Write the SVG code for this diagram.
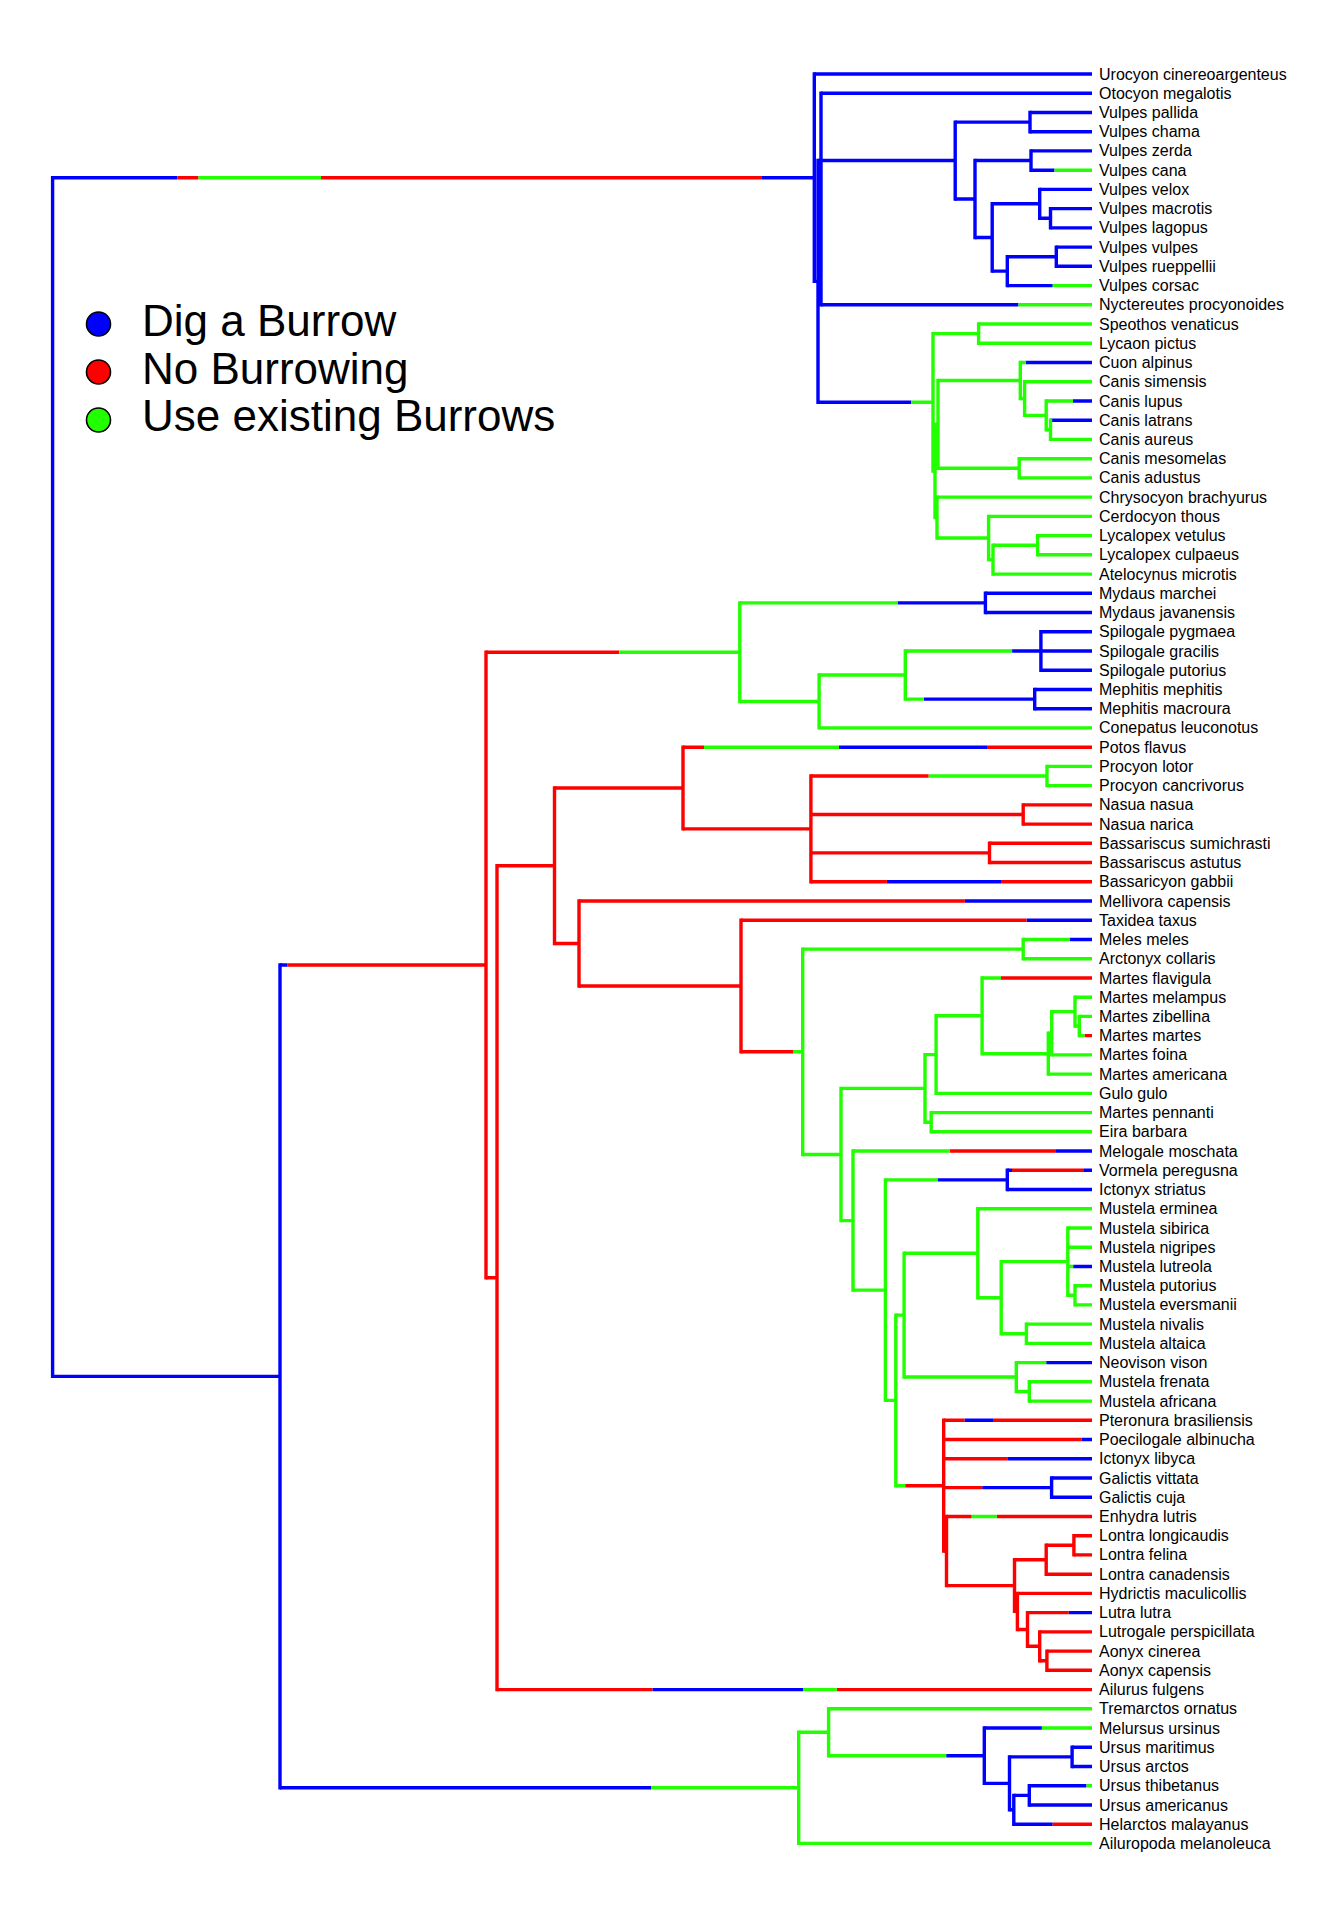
<svg xmlns="http://www.w3.org/2000/svg" width="1344" height="1920" viewBox="0 0 1344 1920">
<style>
.h{fill:none;stroke-width:3.4;stroke-linecap:butt}
.v{fill:none;stroke-width:3.4;stroke-linecap:square}
.b{stroke:#0000ff}.r{stroke:#ff0000}.g{stroke:#22ff00}
.tip{font-family:"Liberation Sans",Arial,sans-serif;font-size:16px;fill:#000}
.leg{font-family:"Liberation Sans",Arial,sans-serif;font-size:44px;fill:#000}
.dot{stroke:#000;stroke-width:1.6}
</style>
<rect width="1344" height="1920" fill="#fff"/>
<g id="connectors">
<path class="h b" d="M52.6 177.7H177.5M762 177.7H814.3M52.6 1376.4H280M814.3 74H1092M814.3 281.4H818M818 160.55H955.2M818 199H821M821 93.2H1092M821 304.8H1018.5M818 402.3H911.3M955.2 122.1H1030M1030 112.5H1092M1030 131.7H1092M955.2 199H975M975 160.55H1031M1031 150.9H1092M1031 170.2H1054.5M975 237.5H992.2M992.2 203.8H1039.7M1039.7 189.4H1092M1039.7 218.25H1050.5M1050.5 208.6H1092M1050.5 227.9H1092M992.2 271.15H1007.3M1007.3 256.7H1056.3M1056.3 247.1H1092M1056.3 266.3H1092M1007.3 285.6H1052.7M1025.7 362.5H1092M1073 401H1092M1050.5 420.2H1092M280 964.95H287.6M280 1787.8H651M652.4 1689.6H803.4M839 747.2H987M886.9 881.8H1001M964.9 901H1092M1026.5 920.25H1092M1069.6 939.5H1092M1055.2 1151.05H1092M937.6 1179.9H1007.3M1007.3 1170.3H1012M1083.2 1170.3H1092M1007.3 1189.5H1092M1073.2 1266.45H1092M1046.2 1362.6H1092M964.5 1420.3H993M1081.4 1439.5H1092M1007.3 1458.8H1092M982.2 1487.6H1051.6M1051.6 1478H1092M1051.6 1497.2H1092M1068.8 1612.6H1092M897.5 602.9H985.4M985.4 593.3H1092M985.4 612.5H1092M1012.1 651H1040.9M1040.9 631.8H1092M1040.9 651H1092M1040.9 670.2H1092M923.8 699.1H1034.7M1034.7 689.5H1092M1034.7 708.7H1092M946.2 1755.7H984.3M984.3 1728H1041.9M984.3 1783.35H1009.5M1009.5 1756.9H1072.1M1072.1 1747.3H1092M1072.1 1766.5H1092M1009.5 1809.8H1013.8M1013.8 1795.35H1029.3M1029.3 1785.7H1086.5M1029.3 1805H1092M1013.8 1824.2H1052.7"/>
<path class="h r" d="M177.5 177.7H198.5M321 177.7H762M287.6 964.95H486M486 652.2H619.3M486 1277.7H497M497 1689.6H652.4M836.8 1689.6H1092M497 865.8H554.5M554.5 788.05H683M683 747.2H704M987 747.2H1092M683 828.9H810.9M810.9 776H928.7M810.9 814.5H1023.2M1023.2 804.85H1092M1023.2 824.1H1092M810.9 852.9H989.5M989.5 843.3H1092M989.5 862.55H1092M810.9 881.8H886.9M1001 881.8H1092M554.5 943.5H579M579 901H964.9M579 986H741M741 920.25H1026.5M741 1051.8H793.6M1001 977.95H1092M1084.5 1035.65H1092M949.8 1151.05H1055.2M1012 1170.3H1083.2M905.2 1485.7H943.7M943.7 1420.3H964.5M993 1420.3H1092M943.7 1439.5H1081.4M943.7 1458.8H1007.3M943.7 1487.6H982.2M943.7 1551.05H946.5M946.5 1516.5H971.7M996.9 1516.5H1092M946.5 1585.6H1014.5M1014.5 1559.75H1046.2M1046.2 1545.3H1073.9M1073.9 1535.7H1092M1073.9 1554.9H1092M1046.2 1574.2H1092M1014.5 1611.4H1017.4M1017.4 1593.4H1092M1017.4 1629.45H1027.5M1027.5 1612.6H1068.8M1027.5 1646.3H1039.7M1039.7 1631.9H1092M1039.7 1660.7H1046.9M1046.9 1651.1H1092M1046.9 1670.3H1092M1052.7 1824.2H1092"/>
<path class="h g" d="M198.5 177.7H321M1018.5 304.8H1092M1054.5 170.2H1092M1052.7 285.6H1092M911.3 402.3H933M933 333.65H978.6M978.6 324H1092M978.6 343.3H1092M933 471H935M935 424.4H938M938 380.5H1020.3M1020.3 362.5H1025.7M1020.3 398.55H1024.6M1024.6 381.7H1092M1024.6 415.4H1046.2M1046.2 401H1073M1046.2 429.8H1050.5M1050.5 439.4H1092M938 468.3H1019.2M1019.2 458.7H1092M1019.2 477.9H1092M935 517.55H937M937 497.1H1092M937 538H988.6M988.6 516.4H1092M988.6 559.65H993M993 545.2H1037.6M1037.6 535.6H1092M1037.6 554.8H1092M993 574.1H1092M651 1787.8H798.7M619.3 652.2H739.8M803.4 1689.6H836.8M704 747.2H839M928.7 776H1047M1047 766.4H1092M1047 785.6H1092M793.6 1051.8H802.7M802.7 949.1H1023.2M1023.2 939.5H1069.6M1023.2 958.7H1092M802.7 1154.5H841M841 1088.4H925M925 1054.6H936.1M936.1 1015.8H982.1M982.1 977.95H1001M982.1 1053.7H1048.3M1048.3 1033.25H1051.7M1051.7 1011.6H1075M1075 997.2H1092M1075 1026H1079.3M1079.3 1016.4H1092M1079.3 1035.65H1084.5M1051.7 1054.9H1092M1048.3 1074.1H1092M936.1 1093.35H1092M925 1122.2H931.2M931.2 1112.6H1092M931.2 1131.8H1092M841 1220.6H853M853 1151.05H949.8M853 1290.15H885.4M885.4 1179.9H937.6M885.4 1400.4H895.8M895.8 1315.1H904.1M904.1 1253.2H977.8M977.8 1208.75H1092M977.8 1297.7H1001.2M1001.2 1261.65H1067.8M1067.8 1228H1092M1067.8 1247.2H1092M1067.8 1266.45H1073.2M1067.8 1295.3H1075M1075 1285.7H1092M1075 1304.9H1092M1001.2 1333.75H1026.4M1026.4 1324.1H1092M1026.4 1343.4H1092M904.1 1377H1016.3M1016.3 1362.6H1046.2M1016.3 1391.45H1029.3M1029.3 1381.8H1092M1029.3 1401.1H1092M895.8 1485.7H905.2M971.7 1516.5H996.9M739.8 602.9H897.5M739.8 701.5H819.1M819.1 675.05H905.3M905.3 651H1012.1M905.3 699.1H923.8M819.1 727.9H1092M798.7 1732.25H828.6M828.6 1708.8H1092M828.6 1755.7H946.2M1041.9 1728H1092M1086.5 1785.7H1092M798.7 1843.4H1092"/>
<path class="v b" d="M52.6 177.7V1376.4M814.3 74V281.4M818 160.55V402.3M821 93.2V304.8M955.2 122.1V199M1030 112.5V131.7M975 160.55V237.5M1031 150.9V170.2M992.2 203.8V271.15M1039.7 189.4V218.25M1050.5 208.6V227.9M1007.3 256.7V285.6M1056.3 247.1V266.3M280 964.95V1787.8M1007.3 1170.3V1189.5M1051.6 1478V1497.2M985.4 593.3V612.5M1040.9 631.8V670.2M1034.7 689.5V708.7M984.3 1728V1783.35M1009.5 1756.9V1809.8M1072.1 1747.3V1766.5M1013.8 1795.35V1824.2M1029.3 1785.7V1805"/>
<path class="v r" d="M486 652.2V1277.7M497 865.8V1689.6M554.5 788.05V943.5M683 747.2V828.9M810.9 776V881.8M1023.2 804.85V824.1M989.5 843.3V862.55M579 901V986M741 920.25V1051.8M943.7 1420.3V1551.05M946.5 1516.5V1585.6M1014.5 1559.75V1611.4M1046.2 1545.3V1574.2M1073.9 1535.7V1554.9M1017.4 1593.4V1629.45M1027.5 1612.6V1646.3M1039.7 1631.9V1660.7M1046.9 1651.1V1670.3"/>
<path class="v g" d="M933 333.65V471M978.6 324V343.3M935 424.4V517.55M938 380.5V468.3M1020.3 362.5V398.55M1024.6 381.7V415.4M1046.2 401V429.8M1050.5 420.2V439.4M1019.2 458.7V477.9M937 497.1V538M988.6 516.4V559.65M993 545.2V574.1M1037.6 535.6V554.8M739.8 602.9V701.5M819.1 675.05V727.9M905.3 651V699.1M1047 766.4V785.6M802.7 949.1V1154.5M1023.2 939.5V958.7M841 1088.4V1220.6M925 1054.6V1122.2M936.1 1015.8V1093.35M982.1 977.95V1053.7M1048.3 1033.25V1074.1M1051.7 1011.6V1054.9M1075 997.2V1026M1079.3 1016.4V1035.65M931.2 1112.6V1131.8M853 1151.05V1290.15M885.4 1179.9V1400.4M895.8 1315.1V1485.7M904.1 1253.2V1377M977.8 1208.75V1297.7M1001.2 1261.65V1333.75M1067.8 1228V1295.3M1075 1285.7V1304.9M1026.4 1324.1V1343.4M1016.3 1362.6V1391.45M1029.3 1381.8V1401.1M798.7 1732.25V1843.4M828.6 1708.8V1755.7"/>
</g>
<g id="legend">
<g id="legend-dig"><circle class="dot" cx="98.5" cy="324" r="12" fill="#0000ff"/><text class="leg" x="142" y="336">Dig a Burrow</text></g>
<g id="legend-no"><circle class="dot" cx="98.5" cy="372" r="12" fill="#ff0000"/><text class="leg" x="142" y="384">No Burrowing</text></g>
<g id="legend-use"><circle class="dot" cx="98.5" cy="420" r="12" fill="#22ff00"/><text class="leg" x="142" y="431">Use existing Burrows</text></g>
</g>
<g id="tips" class="tip">
<g id="t01"><text x="1099" y="79.5">Urocyon cinereoargenteus</text></g>
<g id="t02"><text x="1099" y="98.7">Otocyon megalotis</text></g>
<g id="t03"><text x="1099" y="118">Vulpes pallida</text></g>
<g id="t04"><text x="1099" y="137.2">Vulpes chama</text></g>
<g id="t05"><text x="1099" y="156.4">Vulpes zerda</text></g>
<g id="t06"><text x="1099" y="175.7">Vulpes cana</text></g>
<g id="t07"><text x="1099" y="194.9">Vulpes velox</text></g>
<g id="t08"><text x="1099" y="214.1">Vulpes macrotis</text></g>
<g id="t09"><text x="1099" y="233.4">Vulpes lagopus</text></g>
<g id="t10"><text x="1099" y="252.6">Vulpes vulpes</text></g>
<g id="t11"><text x="1099" y="271.8">Vulpes rueppellii</text></g>
<g id="t12"><text x="1099" y="291.1">Vulpes corsac</text></g>
<g id="t13"><text x="1099" y="310.3">Nyctereutes procyonoides</text></g>
<g id="t14"><text x="1099" y="329.5">Speothos venaticus</text></g>
<g id="t15"><text x="1099" y="348.8">Lycaon pictus</text></g>
<g id="t16"><text x="1099" y="368">Cuon alpinus</text></g>
<g id="t17"><text x="1099" y="387.2">Canis simensis</text></g>
<g id="t18"><text x="1099" y="406.5">Canis lupus</text></g>
<g id="t19"><text x="1099" y="425.7">Canis latrans</text></g>
<g id="t20"><text x="1099" y="444.9">Canis aureus</text></g>
<g id="t21"><text x="1099" y="464.2">Canis mesomelas</text></g>
<g id="t22"><text x="1099" y="483.4">Canis adustus</text></g>
<g id="t23"><text x="1099" y="502.6">Chrysocyon brachyurus</text></g>
<g id="t24"><text x="1099" y="521.9">Cerdocyon thous</text></g>
<g id="t25"><text x="1099" y="541.1">Lycalopex vetulus</text></g>
<g id="t26"><text x="1099" y="560.3">Lycalopex culpaeus</text></g>
<g id="t27"><text x="1099" y="579.6">Atelocynus microtis</text></g>
<g id="t28"><text x="1099" y="598.8">Mydaus marchei</text></g>
<g id="t29"><text x="1099" y="618">Mydaus javanensis</text></g>
<g id="t30"><text x="1099" y="637.3">Spilogale pygmaea</text></g>
<g id="t31"><text x="1099" y="656.5">Spilogale gracilis</text></g>
<g id="t32"><text x="1099" y="675.7">Spilogale putorius</text></g>
<g id="t33"><text x="1099" y="695">Mephitis mephitis</text></g>
<g id="t34"><text x="1099" y="714.2">Mephitis macroura</text></g>
<g id="t35"><text x="1099" y="733.4">Conepatus leuconotus</text></g>
<g id="t36"><text x="1099" y="752.7">Potos flavus</text></g>
<g id="t37"><text x="1099" y="771.9">Procyon lotor</text></g>
<g id="t38"><text x="1099" y="791.1">Procyon cancrivorus</text></g>
<g id="t39"><text x="1099" y="810.4">Nasua nasua</text></g>
<g id="t40"><text x="1099" y="829.6">Nasua narica</text></g>
<g id="t41"><text x="1099" y="848.8">Bassariscus sumichrasti</text></g>
<g id="t42"><text x="1099" y="868.1">Bassariscus astutus</text></g>
<g id="t43"><text x="1099" y="887.3">Bassaricyon gabbii</text></g>
<g id="t44"><text x="1099" y="906.5">Mellivora capensis</text></g>
<g id="t45"><text x="1099" y="925.8">Taxidea taxus</text></g>
<g id="t46"><text x="1099" y="945">Meles meles</text></g>
<g id="t47"><text x="1099" y="964.2">Arctonyx collaris</text></g>
<g id="t48"><text x="1099" y="983.5">Martes flavigula</text></g>
<g id="t49"><text x="1099" y="1002.7">Martes melampus</text></g>
<g id="t50"><text x="1099" y="1021.9">Martes zibellina</text></g>
<g id="t51"><text x="1099" y="1041.2">Martes martes</text></g>
<g id="t52"><text x="1099" y="1060.4">Martes foina</text></g>
<g id="t53"><text x="1099" y="1079.6">Martes americana</text></g>
<g id="t54"><text x="1099" y="1098.9">Gulo gulo</text></g>
<g id="t55"><text x="1099" y="1118.1">Martes pennanti</text></g>
<g id="t56"><text x="1099" y="1137.3">Eira barbara</text></g>
<g id="t57"><text x="1099" y="1156.6">Melogale moschata</text></g>
<g id="t58"><text x="1099" y="1175.8">Vormela peregusna</text></g>
<g id="t59"><text x="1099" y="1195">Ictonyx striatus</text></g>
<g id="t60"><text x="1099" y="1214.3">Mustela erminea</text></g>
<g id="t61"><text x="1099" y="1233.5">Mustela sibirica</text></g>
<g id="t62"><text x="1099" y="1252.7">Mustela nigripes</text></g>
<g id="t63"><text x="1099" y="1272">Mustela lutreola</text></g>
<g id="t64"><text x="1099" y="1291.2">Mustela putorius</text></g>
<g id="t65"><text x="1099" y="1310.4">Mustela eversmanii</text></g>
<g id="t66"><text x="1099" y="1329.6">Mustela nivalis</text></g>
<g id="t67"><text x="1099" y="1348.9">Mustela altaica</text></g>
<g id="t68"><text x="1099" y="1368.1">Neovison vison</text></g>
<g id="t69"><text x="1099" y="1387.3">Mustela frenata</text></g>
<g id="t70"><text x="1099" y="1406.6">Mustela africana</text></g>
<g id="t71"><text x="1099" y="1425.8">Pteronura brasiliensis</text></g>
<g id="t72"><text x="1099" y="1445">Poecilogale albinucha</text></g>
<g id="t73"><text x="1099" y="1464.3">Ictonyx libyca</text></g>
<g id="t74"><text x="1099" y="1483.5">Galictis vittata</text></g>
<g id="t75"><text x="1099" y="1502.7">Galictis cuja</text></g>
<g id="t76"><text x="1099" y="1522">Enhydra lutris</text></g>
<g id="t77"><text x="1099" y="1541.2">Lontra longicaudis</text></g>
<g id="t78"><text x="1099" y="1560.4">Lontra felina</text></g>
<g id="t79"><text x="1099" y="1579.7">Lontra canadensis</text></g>
<g id="t80"><text x="1099" y="1598.9">Hydrictis maculicollis</text></g>
<g id="t81"><text x="1099" y="1618.1">Lutra lutra</text></g>
<g id="t82"><text x="1099" y="1637.4">Lutrogale perspicillata</text></g>
<g id="t83"><text x="1099" y="1656.6">Aonyx cinerea</text></g>
<g id="t84"><text x="1099" y="1675.8">Aonyx capensis</text></g>
<g id="t85"><text x="1099" y="1695.1">Ailurus fulgens</text></g>
<g id="t86"><text x="1099" y="1714.3">Tremarctos ornatus</text></g>
<g id="t87"><text x="1099" y="1733.5">Melursus ursinus</text></g>
<g id="t88"><text x="1099" y="1752.8">Ursus maritimus</text></g>
<g id="t89"><text x="1099" y="1772">Ursus arctos</text></g>
<g id="t90"><text x="1099" y="1791.2">Ursus thibetanus</text></g>
<g id="t91"><text x="1099" y="1810.5">Ursus americanus</text></g>
<g id="t92"><text x="1099" y="1829.7">Helarctos malayanus</text></g>
<g id="t93"><text x="1099" y="1848.9">Ailuropoda melanoleuca</text></g>
</g>
</svg>
